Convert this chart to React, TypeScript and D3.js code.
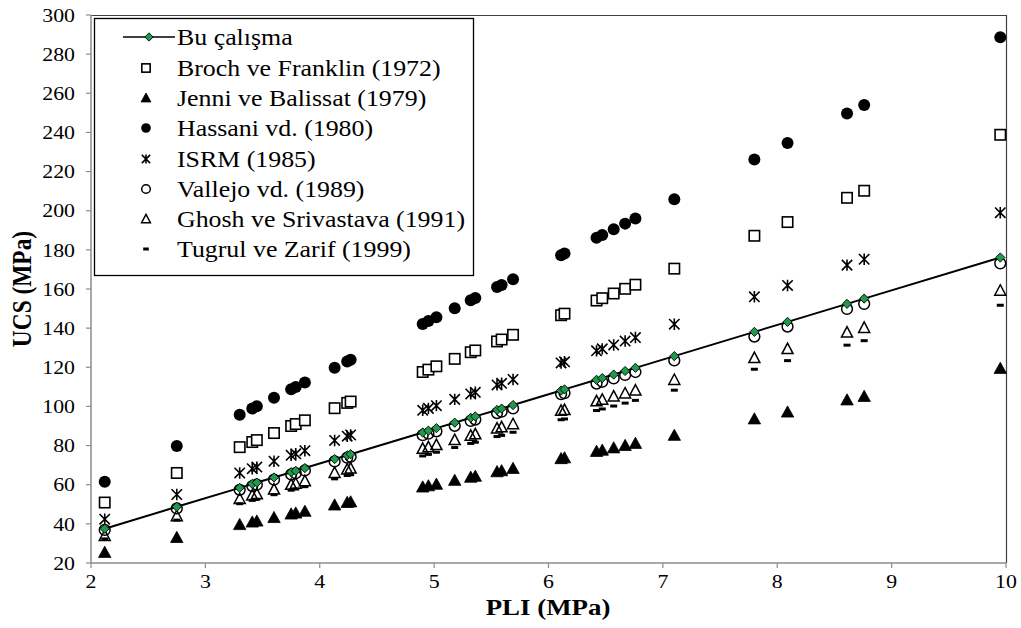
import React from "react";
import * as d3 from "d3";

// PLI values of the tested samples (MPa)
const pli = [2.12, 2.75, 3.30, 3.41, 3.45, 3.60, 3.75, 3.79, 3.87, 4.13, 4.24, 4.27, 4.90, 4.95, 5.02, 5.18, 5.32, 5.36, 5.55, 5.59, 5.69, 6.11, 6.14, 6.42, 6.47, 6.57, 6.67, 6.76, 7.10, 7.80, 8.09, 8.61, 8.76, 9.95];

// UCS estimates (MPa) for each sample by each relation
const buCalisma = [37.5, 48.7, 58.4, 60.4, 61.1, 63.7, 66.4, 67.1, 68.5, 73.1, 75.0, 75.6, 86.7, 87.6, 88.9, 91.7, 94.2, 94.9, 98.2, 98.9, 100.7, 108.1, 108.7, 113.6, 114.5, 116.3, 118.1, 119.7, 125.7, 138.1, 143.2, 152.4, 155.1, 176.1];
const broch = [50.9, 66.0, 79.2, 81.8, 82.8, 86.4, 90.0, 91.0, 92.9, 99.1, 101.8, 102.5, 117.6, 118.8, 120.5, 124.3, 127.7, 128.6, 133.2, 134.2, 136.6, 146.6, 147.4, 154.1, 155.3, 157.7, 160.1, 162.2, 170.4, 187.2, 194.2, 206.6, 210.2, 238.8];
const jenni = [25.4, 33.0, 39.6, 40.9, 41.4, 43.2, 45.0, 45.5, 46.4, 49.6, 50.9, 51.2, 58.8, 59.4, 60.2, 62.2, 63.8, 64.3, 66.6, 67.1, 68.3, 73.3, 73.7, 77.0, 77.6, 78.8, 80.0, 81.1, 85.2, 93.6, 97.1, 103.3, 105.1, 119.4];
const hassani = [61.5, 79.8, 95.7, 98.9, 100.1, 104.4, 108.8, 109.9, 112.2, 119.8, 123.0, 123.8, 142.1, 143.6, 145.6, 150.2, 154.3, 155.4, 161.0, 162.1, 165.0, 177.2, 178.1, 186.2, 187.6, 190.5, 193.4, 196.0, 205.9, 226.2, 234.6, 249.7, 254.0, 288.6];
const isrm = [42.4, 55.0, 66.0, 68.2, 69.0, 72.0, 75.0, 75.8, 77.4, 82.6, 84.8, 85.4, 98.0, 99.0, 100.4, 103.6, 106.4, 107.2, 111.0, 111.8, 113.8, 122.2, 122.8, 128.4, 129.4, 131.4, 133.4, 135.2, 142.0, 156.0, 161.8, 172.2, 175.2, 199.0];
const vallejo = [36.9, 47.9, 57.4, 59.3, 60.0, 62.6, 65.3, 65.9, 67.3, 71.9, 73.8, 74.3, 85.3, 86.1, 87.3, 90.1, 92.6, 93.3, 96.6, 97.3, 99.0, 106.3, 106.8, 111.7, 112.6, 114.3, 116.1, 117.6, 123.5, 135.7, 140.8, 149.8, 152.4, 173.1];
const ghosh = [33.9, 44.0, 52.8, 54.6, 55.2, 57.6, 60.0, 60.6, 61.9, 66.1, 67.8, 68.3, 78.4, 79.2, 80.3, 82.9, 85.1, 85.8, 88.8, 89.4, 91.0, 97.8, 98.2, 102.7, 103.5, 105.1, 106.7, 108.2, 113.6, 124.8, 129.4, 137.8, 140.2, 159.2];
const tugrul = [32.3, 41.9, 50.3, 52.0, 52.6, 54.9, 57.2, 57.8, 59.0, 63.0, 64.7, 65.1, 74.7, 75.5, 76.6, 79.0, 81.1, 81.7, 84.6, 85.2, 86.8, 93.2, 93.6, 97.9, 98.7, 100.2, 101.7, 103.1, 108.3, 119.0, 123.4, 131.3, 133.6, 151.7];

const xTicks = [2, 3, 4, 5, 6, 7, 8, 9, 10];
const yTicks = [20, 40, 60, 80, 100, 120, 140, 160, 180, 200, 220, 240, 260, 280, 300];

type MarkerKind = "square" | "triangle" | "circle" | "star" | "ocircle" | "otriangle" | "dash" | "diamond";

const seriesList: { name: string; values: number[]; marker: MarkerKind }[] = [
  { name: "Broch ve Franklin (1972)", values: broch, marker: "square" },
  { name: "Jenni ve Balissat (1979)", values: jenni, marker: "triangle" },
  { name: "Hassani vd. (1980)", values: hassani, marker: "circle" },
  { name: "ISRM (1985)", values: isrm, marker: "star" },
  { name: "Vallejo vd. (1989)", values: vallejo, marker: "ocircle" },
  { name: "Ghosh ve Srivastava (1991)", values: ghosh, marker: "otriangle" },
  { name: "Tugrul ve Zarif (1999)", values: tugrul, marker: "dash" },
];

const FONT = "'Liberation Serif', 'Times New Roman', serif";
// glyphs are drawn slightly wide, as in the original figure
const STRETCH = 1.15;

function T({
  x,
  y,
  size,
  anchor = "start",
  bold = false,
  rotate = 0,
  dy,
  children,
}: {
  x: number;
  y: number;
  size: number;
  anchor?: "start" | "middle" | "end";
  bold?: boolean;
  rotate?: number;
  dy?: string;
  children: React.ReactNode;
}) {
  return (
    <text
      transform={`translate(${x},${y}) scale(${STRETCH},1)${rotate ? ` rotate(${rotate})` : ""}`}
      textAnchor={anchor}
      dy={dy}
      fontFamily={FONT}
      fontWeight={bold ? "bold" : "normal"}
      fontSize={size}
      fill="#000"
    >
      {children}
    </text>
  );
}

function Marker({ kind, x, y, s = 1 }: { kind: MarkerKind; x: number; y: number; s?: number }) {
  switch (kind) {
    case "square": {
      const h = 5.2 * s;
      return <rect x={x - h} y={y - h} width={2 * h} height={2 * h} fill="#fff" stroke="#000" strokeWidth={1.6} />;
    }
    case "triangle": {
      const h = 6.2 * s;
      return <path d={`M${x},${y - h}L${x + h},${y + h * 0.8}L${x - h},${y + h * 0.8}Z`} fill="#000" stroke="#000" strokeWidth={0.8} />;
    }
    case "otriangle": {
      const h = 5.8 * s;
      return <path d={`M${x},${y - h}L${x + h * 0.95},${y + h * 0.8}L${x - h * 0.95},${y + h * 0.8}Z`} fill="none" stroke="#000" strokeWidth={1.5} />;
    }
    case "circle":
      return <circle cx={x} cy={y} r={6 * s} fill="#000" />;
    case "ocircle":
      return <circle cx={x} cy={y} r={5.4 * s} fill="none" stroke="#000" strokeWidth={1.5} />;
    case "star": {
      const h = 5.2 * s;
      return (
        <path
          d={`M${x - h},${y - h}L${x + h},${y + h}M${x - h},${y + h}L${x + h},${y - h}M${x},${y - h * 1.1}L${x},${y + h * 1.1}`}
          stroke="#000"
          strokeWidth={1.6}
          fill="none"
        />
      );
    }
    case "dash":
      return <rect x={x - 3.5 * s} y={y - 1.5} width={7 * s} height={3} fill="#000" />;
    case "diamond": {
      const h = 4.6 * s;
      return <path d={`M${x},${y - h}L${x + h},${y}L${x},${y + h}L${x - h},${y}Z`} fill="#1f9a4a" stroke="#000" strokeWidth={0.9} />;
    }
  }
  return null;
}

export default function App() {
  const width = 1021;
  const height = 628;
  const left = 91;
  const right = 1006;
  const top = 15;
  const bottom = 563;

  const x = d3.scaleLinear().domain([2, 10]).range([left, right]);
  const y = d3.scaleLinear().domain([20, 300]).range([bottom, top]);

  const line = d3
    .line<number>()
    .x((_, i) => x(pli[i]))
    .y((d) => y(d));

  const legendRows = [37, 68, 98, 128, 159, 189, 219, 249];

  return (
    <svg width={width} height={height} style={{ position: "absolute", left: 0, top: 0, background: "#fff" }}>
      <rect x={0} y={0} width={width} height={height} fill="#fff" />

      {/* plot frame */}
      <path d={`M${left},${top + 0.5}H${right + 0.5}V${bottom}`} stroke="#404040" strokeWidth={1.2} fill="none" />
      <line x1={left} x2={left} y1={top} y2={bottom + 0.5} stroke="#8c8c8c" strokeWidth={1.5} />
      <line x1={left - 0.5} x2={right + 0.5} y1={bottom} y2={bottom} stroke="#8c8c8c" strokeWidth={1.5} />

      {/* y axis ticks & labels */}
      {yTicks.map((t) => (
        <g key={`y${t}`}>
          <line x1={left - 5} x2={left} y1={y(t)} y2={y(t)} stroke="#8c8c8c" strokeWidth={1.2} />
          <T x={left - 16} y={y(t)} dy="0.35em" anchor="end" size={19}>
            {t}
          </T>
        </g>
      ))}

      {/* x axis ticks & labels */}
      {xTicks.map((t) => (
        <g key={`x${t}`}>
          <line x1={x(t)} x2={x(t)} y1={bottom} y2={bottom + 5} stroke="#8c8c8c" strokeWidth={1.2} />
          <T x={x(t)} y={bottom + 25} anchor="middle" size={19}>
            {t}
          </T>
        </g>
      ))}

      {/* axis titles */}
      <T x={548} y={615} anchor="middle" bold size={23.4}>
        PLI (MPa)
      </T>
      <T x={31} y={(top + bottom) / 2} anchor="middle" bold size={23.4} rotate={-90}>
        UCS (MPa)
      </T>

      {/* reference relations */}
      {seriesList.map((s) => (
        <g key={s.name}>
          {s.values.map((v, i) => (
            <Marker key={i} kind={s.marker} x={x(pli[i])} y={y(v)} />
          ))}
        </g>
      ))}

      {/* this study: fitted line with markers */}
      <path d={line(buCalisma) ?? ""} stroke="#000" strokeWidth={2} fill="none" />
      {buCalisma.map((v, i) => (
        <Marker key={`b${i}`} kind="diamond" x={x(pli[i])} y={y(v)} />
      ))}

      {/* legend */}
      <g>
        <rect x={94.5} y={18.5} width={379} height={257} fill="#fff" stroke="#000" strokeWidth={1.3} />
        <line x1={123} x2={175} y1={legendRows[0]} y2={legendRows[0]} stroke="#000" strokeWidth={1.6} />
        <Marker kind="diamond" x={149} y={legendRows[0]} s={0.9} />
        <T x={177} y={legendRows[0]} dy="0.35em" size={22.5}>
          Bu çalışma
        </T>
        {seriesList.map((s, i) => (
          <g key={`l${s.name}`}>
            <Marker kind={s.marker} x={146} y={legendRows[i + 1]} s={0.8} />
            <T x={177} y={legendRows[i + 1]} dy="0.35em" size={22.5}>
              {s.name}
            </T>
          </g>
        ))}
      </g>
    </svg>
  );
}
